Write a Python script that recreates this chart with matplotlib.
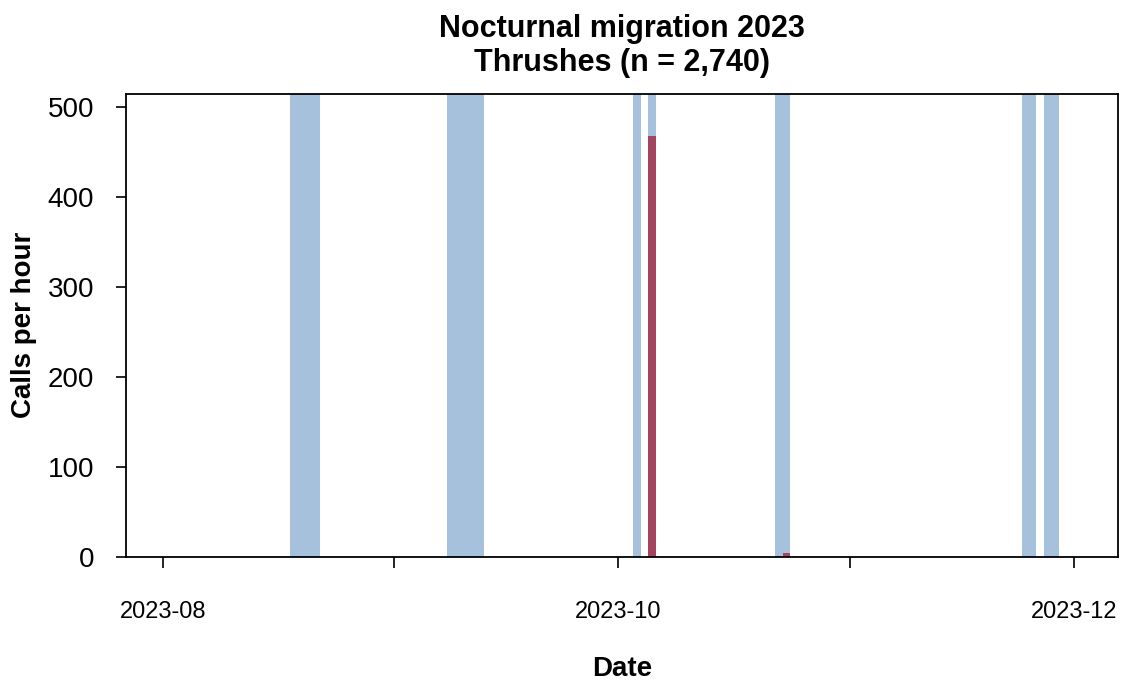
import matplotlib
matplotlib.use('Agg')
import matplotlib.pyplot as plt
import matplotlib.dates as mdates
import numpy as np
import pandas as pd

# survey nights (shaded) and thrush calls per hour on each night
nights = ['2023-08-18', '2023-08-19', '2023-08-20', '2023-08-21',
          '2023-09-08', '2023-09-09', '2023-09-10', '2023-09-11', '2023-09-12',
          '2023-10-03', '2023-10-05',
          '2023-10-22', '2023-10-23',
          '2023-11-24', '2023-11-25',
          '2023-11-27', '2023-11-28']
calls_per_hour = [0, 0, 0, 0,
                  0, 0, 0, 0, 0,
                  0, 468,
                  0, 4,
                  0, 0,
                  0, 0]
season = ['2023-08-01', '2023-12-02']
month_ticks = ['2023-08-01', '2023-09-01', '2023-10-01', '2023-11-01', '2023-12-01']
month_labels = ['2023-08', '', '2023-10', '', '2023-12']
title = 'Nocturnal migration 2023'
subtitle = 'Thrushes (n = 2,740)'

plt.rcParams['font.family'] = ['Liberation Sans', 'DejaVu Sans']

night_dates = pd.to_datetime(nights)
rate = np.array(calls_per_hour, dtype=float)
ytop = rate.max() * 1.1

fig = plt.figure(figsize=(11.22, 6.82), dpi=100)
ax = fig.add_axes([126 / 1122, 1 - 557 / 682, (1118 - 126) / 1122, (557 - 93.5) / 682])

ax.bar(night_dates, np.full(len(night_dates), ytop), width=1, align='edge',
       color='#a5c1dc', edgecolor='none', zorder=1)
ax.bar(night_dates, rate, width=1, align='edge',
       color='#a4445e', edgecolor='none', zorder=2)

s0, s1 = mdates.date2num(pd.to_datetime(season))
pad = 0.04 * (s1 - s0)
ax.set_xlim(s0 - pad, s1 + pad)
ax.set_ylim(0, ytop)

ax.set_xticks(pd.to_datetime(month_ticks))
ax.set_xticklabels(month_labels)
ax.set_yticks([0, 100, 200, 300, 400, 500])
ax.tick_params(axis='x', length=8, width=1.2, pad=24, labelsize=17)
ax.tick_params(axis='y', length=7, width=1.2, pad=16, labelsize=20)
for sp in ax.spines.values():
    sp.set_linewidth(1.3)

cx = (126 + 1118) / 2 / 1122
fig.text(cx, 1 - 37 / 682, title, ha='center', va='baseline',
         fontsize=22, fontweight='bold')
fig.text(cx, 1 - 71 / 682, subtitle, ha='center', va='baseline',
         fontsize=22, fontweight='bold')
fig.text(cx, 1 - 676 / 682, 'Date', ha='center', va='baseline',
         fontsize=20, fontweight='bold')
fig.text(24 / 1122, 1 - 325 / 682, 'Calls per hour', ha='center', va='center',
         rotation=90, fontsize=20, fontweight='bold')

fig.savefig('out.png', dpi=100)
